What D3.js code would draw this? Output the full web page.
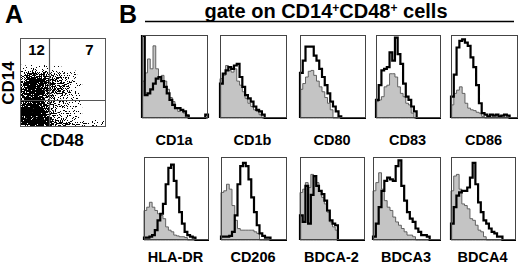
<!DOCTYPE html>
<html><head><meta charset="utf-8">
<script src="https://cdn.jsdelivr.net/npm/d3@7/dist/d3.min.js"></script>
<style>body{margin:0;background:#fff}svg{display:block}text{font-family:"Liberation Sans",Arial,sans-serif;font-weight:bold;fill:#000}</style>
</head><body><svg id="c" width="520" height="266"></svg>
<script>
// ---------- DATA ----------
const markers = ["CD1a","CD1b","CD80","CD83","CD86","HLA-DR","CD206","BDCA-2","BDCA3","BDCA4"];
const quadrantLabels = ["12","7"];
const titleParts = ["gate on CD14","+","CD48","+"," cells"];
// isotype (grey filled) and stained (black line) histograms, % of max, 24 bins
const isoCD1a   = [45,55,72,60,88,60,50,52,45,35,25,20,12,8,10,6,4,0,0,0,0,0,0,0];
const stCD1a    = [100,28,30,35,42,48,50,45,38,30,22,16,12,12,10,8,3,0,0,0,0,0,0,4];
const isoCD1b   = [48,52,64,58,56,60,45,40,32,24,18,14,10,8,4,0,0,0,0,0,0,0,0,0];
const stCD1b    = [42,54,58,62,60,64,66,50,38,28,24,20,14,10,8,4,0,0,0,0,0,0,0,0];
const isoCD80   = [35,42,50,57,58,52,45,38,32,25,18,10,0,0,0,0,0,0,0,0,0,0,0,0];
const stCD80    = [55,70,87,87,87,76,70,60,50,40,30,20,14,8,2,0,0,0,0,0,0,0,0,0];
const isoCD83   = [20,22,26,38,40,54,54,50,38,30,26,18,16,6,0,0,0,0,0,0,0,0,0,0];
const stCD83    = [22,40,58,60,62,80,70,98,78,66,42,26,22,14,8,0,0,0,0,0,0,0,0,0];
const isoCD86   = [16,30,34,38,30,18,12,10,9,7,6,2,0,0,0,0,0,0,0,0,0,0,0,0];
const stCD86    = [26,53,86,94,96,92,88,74,62,40,18,6,4,2,4,3,4,2,3,4,3,0,0,0];
const isoHLADR  = [36,40,46,40,36,32,30,26,16,12,10,6,5,4,4,3,0,0,0,0,0,0,0,0];
const stHLADR   = [3,3,4,6,12,24,32,44,68,88,92,72,52,34,20,10,6,4,3,0,0,0,0,0];
const isoCD206  = [58,60,68,62,42,24,14,12,12,12,12,12,10,8,0,0,0,0,0,0,0,0,0,0];
const stCD206   = [4,4,4,5,10,30,68,90,94,90,74,52,34,18,8,5,3,3,0,0,0,0,0,0];
const isoBDCA2  = [58,62,70,64,80,78,70,60,52,44,34,22,16,12,0,0,0,0,0,0,0,0,0,0];
const stBDCA2   = [30,22,66,20,55,78,66,60,56,48,36,24,20,18,0,0,0,0,0,0,0,0,0,0];
const isoBDCA3  = [60,70,82,62,48,40,36,28,22,18,14,10,6,6,4,0,0,0,0,0,0,0,0,0];
const stBDCA3   = [4,20,40,60,72,76,74,72,90,97,66,48,34,26,22,14,10,6,6,4,0,0,0,0];
const isoBDCA4  = [60,78,80,62,44,42,38,26,24,18,12,10,4,0,0,0,0,0,0,0,0,0,0,0];
const stBDCA4   = [20,40,54,58,60,60,64,76,94,68,46,34,24,20,14,10,8,4,4,0,0,0,0,0];
// CD48 (x) vs CD14 (y) dot-density grid, 0-9, rows top->bottom (upper part of plot)
const density = [
 [1,1,2,2,1,2,1,1,0,0,0,0,0,0,0,0,0,0],
 [3,5,6,6,5,5,4,4,3,2,1,0,0,0,0,0,0,0],
 [4,7,8,8,7,6,5,5,4,3,2,0,0,0,0,0,0,0],
 [5,8,9,9,8,7,6,5,5,4,2,1,0,0,0,0,0,0],
 [6,8,9,9,8,7,6,5,4,4,2,1,0,0,0,0,0,0],
 [5,7,8,8,7,6,5,4,4,3,2,1,0,0,0,0,0,0],
 [6,7,8,8,7,5,4,3,3,2,2,1,0,0,0,0,0,0],
 [7,8,9,9,8,5,4,3,3,3,2,1,0,0,0,0,0,0],
 [8,9,9,9,9,6,4,3,3,2,2,1,0,0,0,0,0,0],
 [9,9,9,9,9,6,4,3,3,2,1,1,0,0,0,0,0,0],
 [9,9,9,9,9,7,5,4,3,3,2,1,0,0,0,0,0,0],
 [9,9,9,9,9,9,7,6,5,5,4,3,3,2,2,2,2,1]
];

const table = [
  [isoCD1a,stCD1a],[isoCD1b,stCD1b],[isoCD80,stCD80],[isoCD83,stCD83],[isoCD86,stCD86],
  [isoHLADR,stHLADR],[isoCD206,stCD206],[isoBDCA2,stBDCA2],[isoBDCA3,stBDCA3],[isoBDCA4,stBDCA4]
].map((d,i)=>({name:markers[i], iso:d[0], st:d[1]}));

// ---------- LAYOUT ----------
const svg = d3.select("#c");
const rows = [{top:35,bottom:118,label:145,lefts:[142,220,300,376,451],widths:[66,67,66,65,67]},
              {top:157,bottom:240,label:262,lefts:[144,221,300,373,451],widths:[65,66,65,68,65]}];

svg.append("text").attr("x",5).attr("y",23).style("font-size","25px").text("A");
svg.append("text").attr("x",119).attr("y",23).style("font-size","25px").text("B");

const title = svg.append("text").attr("x",326).attr("y",18).attr("text-anchor","middle").style("font-size","20px");
titleParts.forEach(p=>{
  const t = title.append("tspan").text(p);
  if(p==="+") t.style("font-size","12px").attr("dy",-6.5);
  else if(p!==titleParts[0]) t.attr("dy",6.5);
});
svg.append("line").attr("x1",145).attr("x2",514).attr("y1",21.5).attr("y2",21.5).attr("stroke","#000").attr("stroke-width",1.3);

// ---------- HISTOGRAMS ----------
table.forEach((d,i)=>{
  const r = rows[Math.floor(i/5)], c = i%5;
  const x0 = r.lefts[c], w = r.widths[c];
  const nb = d.iso.length;
  const x = d3.scaleLinear().domain([0,nb]).range([x0,x0+w]);
  const y = d3.scaleLinear().domain([0,100]).range([r.bottom,r.top+1]);
  const g = svg.append("g");
  g.append("rect").attr("x",x0).attr("y",r.top).attr("width",w).attr("height",r.bottom-r.top)
    .attr("fill","#fff");
  const ptsIso = d.iso.map((v,k)=>[k,v]).concat([[nb,0]]);
  g.append("path").datum(ptsIso)
    .attr("d",d3.area().curve(d3.curveStepAfter).x(p=>x(p[0])).y0(r.bottom).y1(p=>y(p[1])))
    .attr("fill","#c4c4c4").attr("stroke","#555").attr("stroke-width",0.9);
  const ptsSt = [[0,0]].concat(d.st.map((v,k)=>[k,v])).concat([[nb,0]]);
  g.append("path").datum(ptsSt)
    .attr("d",d3.line().curve(d3.curveStepAfter).x(p=>x(p[0])).y(p=>y(p[1])))
    .attr("fill","none").attr("stroke","#000").attr("stroke-width",2.2).attr("stroke-linejoin","miter");
  g.append("rect").attr("x",x0+0.5).attr("y",r.top+0.5).attr("width",w-1).attr("height",r.bottom-r.top-1)
    .attr("fill","none").attr("stroke","#444").attr("stroke-width",1);
  svg.append("text").attr("x",x0+w/2-1).attr("y",r.label).attr("text-anchor","middle")
    .style("font-size","14.5px").text(d.name);
});

// ---------- SCATTER (A) ----------
const box = {l:20,t:38,r:106,b:127};
const cell = 5, gridTop = 67;
const sx = d3.scaleLinear().domain([0,density[0].length]).range([box.l, box.l+cell*density[0].length]);
const sy = d3.scaleLinear().domain([0,density.length]).range([gridTop, gridTop+cell*density.length]);
const op = d3.scaleLinear().domain([0,9]).range([0,1]);
const defs = svg.append("defs");
defs.append("clipPath").attr("id","clipA").append("rect").attr("x",box.l+1).attr("y",box.t+1).attr("width",box.r-box.l-2).attr("height",box.b-box.t-1);
// stipple rendering of the density grid (dither against a noise texture)
const f = defs.append("filter").attr("id","stip").attr("filterUnits","userSpaceOnUse")
  .attr("x",box.l).attr("y",box.t).attr("width",box.r-box.l).attr("height",box.b-box.t+2)
  .attr("color-interpolation-filters","sRGB");
f.append("feGaussianBlur").attr("in","SourceGraphic").attr("stdDeviation",1.6).attr("result","b");
f.append("feTurbulence").attr("type","fractalNoise").attr("baseFrequency",0.9).attr("numOctaves",2).attr("seed",7).attr("result","n");
f.append("feColorMatrix").attr("in","n").attr("type","matrix")
  .attr("values","0 0 0 0 0  0 0 0 0 0  0 0 0 0 0  2.6 0 0 0 -0.8").attr("result","na");
f.append("feComposite").attr("in","b").attr("in2","na").attr("operator","arithmetic")
  .attr("k1",0).attr("k2",1).attr("k3",-1).attr("k4",0).attr("result","d");
f.append("feComponentTransfer").attr("in","d").append("feFuncA").attr("type","linear").attr("slope",40).attr("intercept",0);
const gaOuter = svg.append("g").attr("clip-path","url(#clipA)");
const ga = gaOuter.append("g").attr("filter","url(#stip)");
ga.append("rect").attr("x",box.l).attr("y",box.t).attr("width",1).attr("height",1).attr("fill","none");
density.forEach((row,ri)=>row.forEach((v,ci)=>{
  if(!v) return;
  ga.append("rect").attr("x",sx(ci)).attr("y",sy(ri)).attr("width",cell).attr("height",cell)
    .attr("fill","#000").attr("fill-opacity",op(v));
}));
svg.append("rect").attr("x",box.l+0.5).attr("y",box.t+0.5).attr("width",box.r-box.l-1).attr("height",box.b-box.t-1)
  .attr("fill","none").attr("stroke","#555").attr("stroke-width",1);
svg.append("line").attr("x1",49.5).attr("x2",49.5).attr("y1",box.t).attr("y2",box.b).attr("stroke","#555").attr("stroke-width",1.2);
svg.append("line").attr("x1",box.l).attr("x2",box.r).attr("y1",100.5).attr("y2",100.5).attr("stroke","#555").attr("stroke-width",1.2);
svg.append("text").attr("x",36.5).attr("y",55).attr("text-anchor","middle").style("font-size","15px").text(quadrantLabels[0]);
svg.append("text").attr("x",89.5).attr("y",55).attr("text-anchor","middle").style("font-size","15px").text(quadrantLabels[1]);
svg.append("text").attr("transform","translate(14,83) rotate(-90)").attr("text-anchor","middle").style("font-size","17px").text("CD14");
svg.append("text").attr("x",62).attr("y",146).attr("text-anchor","middle").style("font-size","17px").text("CD48");
</script></body></html>
